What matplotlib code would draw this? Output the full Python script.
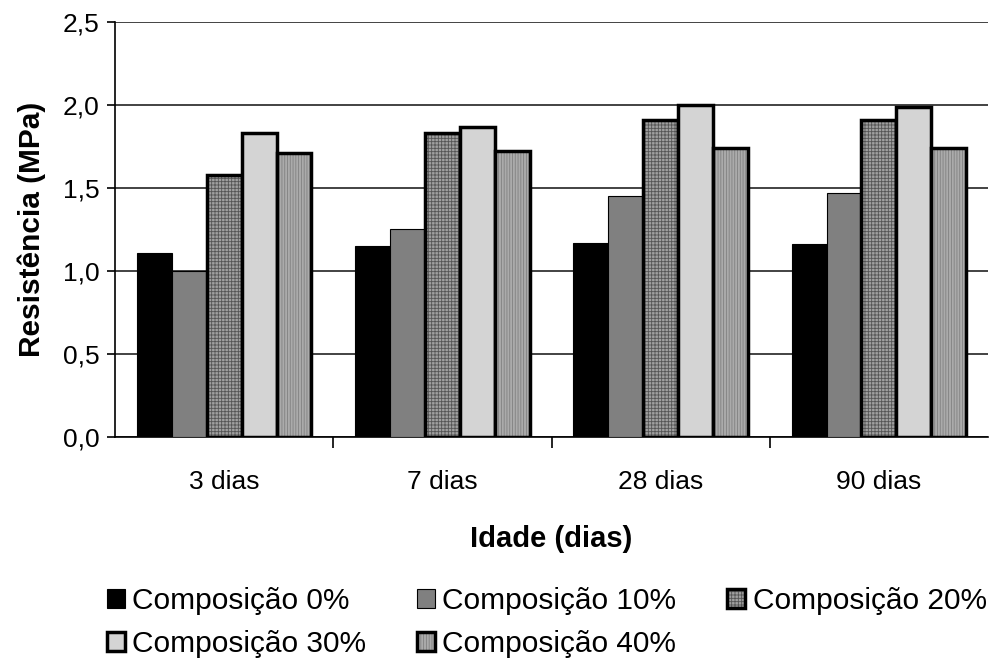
import numpy as np
import matplotlib.pyplot as plt
from matplotlib.colors import to_rgba
from matplotlib.ticker import FuncFormatter

plt.rcParams['font.family'] = ['Liberation Sans', 'DejaVu Sans']
plt.rcParams['hatch.linewidth'] = 0.6

idades = ['3 dias', '7 dias', '28 dias', '90 dias']
series = ['Composição 0%', 'Composição 10%', 'Composição 20%',
          'Composição 30%', 'Composição 40%']
comp_0 = [1.11, 1.15, 1.17, 1.16]
comp_10 = [1.00, 1.25, 1.45, 1.47]
comp_20 = [1.58, 1.83, 1.91, 1.91]
comp_30 = [1.83, 1.87, 2.00, 1.99]
comp_40 = [1.71, 1.72, 1.74, 1.74]
valores = [comp_0, comp_10, comp_20, comp_30, comp_40]

faces = ['black', '#808080', '#a0a0a0', '#d4d4d4', '#ababab']
hatches = [None, None, '+++++', None, '||||||']
hcolors = ['black', 'black', '#555555', 'black', '#808080']
lws = [0.8, 0.8, 2.5, 2.5, 2.5]

fig = plt.figure(figsize=(9.89, 6.62), dpi=100)
ax = fig.add_axes([0.1163, 0.3399, 0.8827, 0.6269])

x = np.arange(len(idades))
w = 0.16
handles = []
for i, (vals, name) in enumerate(zip(valores, series)):
    pos = x + (i - 2) * w
    b = ax.bar(pos, vals, w, color=faces[i], edgecolor='black', linewidth=lws[i],
               hatch=hatches[i], label=name, zorder=3)
    if hatches[i]:
        for p in b:
            p._hatch_color = to_rgba(hcolors[i])
    handles.append(b)

ax.set_xlim(-0.5, 3.5)
ax.set_ylim(0, 2.5)
ax.set_yticks(np.arange(0, 2.51, 0.5))
ax.yaxis.set_major_formatter(FuncFormatter(lambda v, p: f'{v:.1f}'.replace('.', ',')))
ax.yaxis.grid(True, color='#222222', linewidth=1.2, zorder=0)
ax.set_axisbelow(True)

ax.set_xticks(x)
ax.set_xticklabels(idades)
ax.set_xticks(np.arange(0.5, 3.5, 1.0), minor=True)
ax.tick_params(axis='x', which='major', length=0, pad=24, labelsize=19)
ax.tick_params(axis='x', which='minor', length=8, width=1.2, direction='out')
ax.tick_params(axis='y', length=6, width=1.2, labelsize=19, pad=5)

for s in ['top', 'right']:
    ax.spines[s].set_visible(False)
for s in ['left', 'bottom']:
    ax.spines[s].set_linewidth(1.2)

ax.set_ylabel('Resistência (MPa)', fontsize=21.5, fontweight='bold', labelpad=12)
ax.set_xlabel('Idade (dias)', fontsize=21, fontweight='bold', labelpad=22)

# row-major ordering for 3 columns
order = [0, 3, 1, 4, 2]
fig.legend([handles[k] for k in order], [series[k] for k in order],
           loc='upper left', bbox_to_anchor=(0.108, 0.113), ncol=3,
           frameon=False, fontsize=21.5, handlelength=0.6, handleheight=0.6,
           handletextpad=0.25, columnspacing=1.7, labelspacing=0.5,
           borderaxespad=0, borderpad=0)

fig.savefig('out.png', dpi=100)
